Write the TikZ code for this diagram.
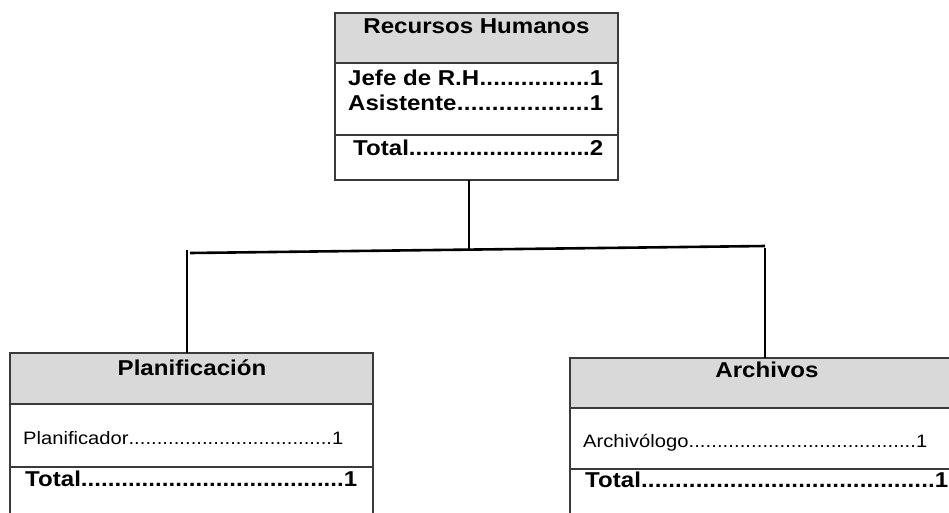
\documentclass[tikz,border=0pt]{standalone}
\usepackage{fontspec}
\setmainfont[FakeStretch=1.12]{Liberation Sans}
\definecolor{hdrgray}{HTML}{D9D9D9}
\definecolor{boxc}{HTML}{3A3A3A}
\newcommand\dotrow[3]{\hbox to #1{#2\xleaders\hbox{.}\hfill #3}}
\tikzset{
  part/.style={draw=boxc, line width=1.3pt, inner sep=0pt, outer sep=0pt, anchor=north west},
  hdr/.style={part, fill=hdrgray},
  txt/.style={inner sep=0pt, anchor=base west},
  ttl/.style={inner sep=0pt, anchor=base, font=\fontsize{21.5pt}{25pt}\selectfont\bfseries},
  bold/.style={font=\fontsize{21.5pt}{25pt}\selectfont\bfseries},
  reg/.style={font=\fontsize{18pt}{21pt}\selectfont},
  conn/.style={draw=black, line width=2.6pt}
}
\begin{document}
\begin{tikzpicture}[x=1pt,y=-1pt]
\useasboundingbox (0,0) rectangle (949,512);
\clip (0,0) rectangle (949,512);
\fill[white] (0,0) rectangle (949,512);
% top box
\node[hdr, minimum width=283pt, minimum height=50pt] (rhh) at (335,13) {};
\node[part, minimum width=283pt, minimum height=72pt] (rhb) at (rhh.south west) {};
\node[part, minimum width=283pt, minimum height=45pt] (rht) at (rhb.south west) {};
\node[ttl] (rhtitle) at (476.5,33) {Recursos Humanos};
\node[txt, bold] (rh1) at (348,85) {\dotrow{255pt}{Jefe de R.H}{1}};
\node[txt, bold] (rh2) at (348,110) {\dotrow{255pt}{Asistente}{1}};
\node[txt, bold] (rh3) at (353,155) {\dotrow{250pt}{Total}{2}};
% left box
\node[hdr, minimum width=363pt, minimum height=51pt] (plh) at (10,353) {};
\node[part, minimum width=363pt, minimum height=63pt] (plb) at (plh.south west) {};
\node[part, minimum width=363pt, minimum height=70pt] (plt) at (plb.south west) {};
\node[ttl] (pltitle) at (192,375) {Planificación};
\node[txt, reg] (pl1) at (23,444) {\dotrow{320pt}{Planificador}{1}};
\node[txt, bold] (pl2) at (25,486) {\dotrow{332pt}{Total}{1}};
% right box
\node[hdr, minimum width=394pt, minimum height=50pt] (arh) at (570,358) {};
\node[part, minimum width=394pt, minimum height=61pt] (arb) at (arh.south west) {};
\node[part, minimum width=394pt, minimum height=70pt] (art) at (arb.south west) {};
\node[ttl] (artitle) at (767,377) {Archivos};
\node[txt, reg] (ar1) at (583,447) {\dotrow{344pt}{Archivólogo}{1}};
\node[txt, bold] (ar2) at (585,487) {\dotrow{363pt}{Total}{1}};
% connectors
\coordinate (jc) at (469,249);
\coordinate (jl) at (190,253);
\coordinate (jr) at (765,246);
\coordinate (vl) at (187,250);
\coordinate (vr) at (765,248);
\draw[conn] (rht.south -| jc) -- (jc);
\draw[conn] (jl) -- (jr);
\draw[conn] (vl) -- (vl |- plh.north);
\draw[conn] (vr) -- (vr |- arh.north);
\end{tikzpicture}
\end{document}
